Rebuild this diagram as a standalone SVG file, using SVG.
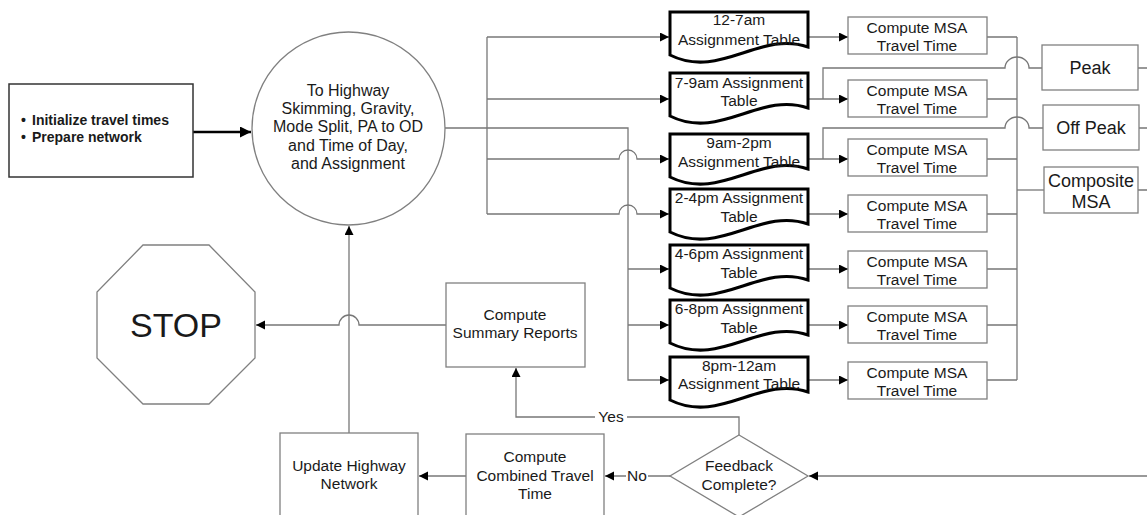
<svg xmlns="http://www.w3.org/2000/svg" xmlns:xlink="http://www.w3.org/1999/xlink" width="1147" height="515" viewBox="0 0 1147 515">
<style>
  text { font-family: "Liberation Sans", Arial, sans-serif; fill: #1a1a1a; text-anchor: middle; }
  .t15 { font-size: 15.5px; }
  .t16 { font-size: 16px; }
  .t18 { font-size: 18px; }
  .box { fill: #fff; stroke: #808080; stroke-width: 1.3; }
  .doc { fill: #fff; stroke: #000; stroke-width: 3; stroke-linejoin: miter; }
  .ln { fill: none; stroke: #777; stroke-width: 1.3; }
  .arr { marker-end: url(#ah); }
  .lbl { fill: #fff; stroke: none; }
</style>
<defs>
  <marker id="ah" markerUnits="userSpaceOnUse" markerWidth="10" markerHeight="10" refX="9" refY="4.5" orient="auto">
    <path d="M0,0 L9,4.5 L0,9 z" fill="#000"/>
  </marker>
  <marker id="ahb" markerUnits="userSpaceOnUse" markerWidth="12" markerHeight="12" refX="11" refY="5.5" orient="auto">
    <path d="M0,0 L11,5.5 L0,11 z" fill="#000"/>
  </marker>
  <path id="docshape" d="M0,0 H138 V35 C90,18 50,68 0,43 Z"/>
</defs>

<g id="connectors">
  <path class="ln" d="M193,132 H251" style="stroke:#000;stroke-width:2.5;marker-end:url(#ahb)"/>
  <path class="ln arr" d="M445,128 H628 V380 H669"/>
  <path class="ln arr" d="M628,269 H669"/>
  <path class="ln arr" d="M628,325 H669"/>
  <path class="ln" d="M487,37 V214"/>
  <path class="ln arr" d="M487,37 H669"/>
  <path class="ln arr" d="M487,99 H669"/>
  <path class="ln arr" d="M487,159 H619 A9,9 0 0 1 637,159 H669"/>
  <path class="ln arr" d="M487,214 H619 A9,9 0 0 1 637,214 H669"/>
  <path class="ln arr" d="M808,37 H848"/>
  <path class="ln arr" d="M808,99 H848"/>
  <path class="ln arr" d="M808,159 H848"/>
  <path class="ln arr" d="M808,214 H848"/>
  <path class="ln arr" d="M808,269 H848"/>
  <path class="ln arr" d="M808,325 H848"/>
  <path class="ln arr" d="M808,380 H848"/>
  <path class="ln" d="M823,99 V68 H1005 A12,11 0 0 1 1029,68 H1043"/>
  <path class="ln" d="M823,159 V128 H1005 A12,11 0 0 1 1029,128 H1043"/>
  <path class="ln" d="M987,37 H1017 M987,99 H1017 M987,159 H1017 M987,214 H1017 M987,269 H1017 M987,325 H1017 M987,380 H1017"/>
  <path class="ln" d="M1017,37 V380"/>
  <path class="ln" d="M1017,190 H1044"/>
  <path class="ln" d="M1138,68 H1147 M1139,128 H1147 M1138,190 H1147"/>
  <path class="ln arr" d="M446,325 H359 A10,10 0 0 0 339,325 H256"/>
  <path class="ln arr" d="M349,433 V226"/>
  <path class="ln arr" d="M739,435 V417 H516 V368"/>
  <path class="ln arr" d="M670,476 H605"/>
  <path class="ln arr" d="M466,476 H419"/>
  <path class="ln arr" d="M1147,476 H809"/>
  <rect class="lbl" x="595" y="408" width="32" height="18"/>
  <text class="t15" x="611" y="422">Yes</text>
  <rect class="lbl" x="626" y="467" width="22" height="18"/>
  <text class="t15" x="637" y="481">No</text>
</g>

<g id="init">
  <rect x="9" y="84" width="184" height="93" fill="#fff" stroke="#333" stroke-width="1.5"/>
  <text x="21" y="125" style="font-size:14px;font-weight:bold;text-anchor:start">•</text>
  <text x="32" y="125" style="font-size:14px;font-weight:bold;text-anchor:start">Initialize travel times</text>
  <text x="21" y="142" style="font-size:14px;font-weight:bold;text-anchor:start">•</text>
  <text x="32" y="142" style="font-size:14px;font-weight:bold;text-anchor:start">Prepare network</text>
</g>

<g id="model">
  <circle cx="348.5" cy="128.5" r="96.5" class="box"/>
  <text class="t16" x="348" y="96">To Highway</text>
  <text class="t16" x="348" y="114">Skimming, Gravity,</text>
  <text class="t16" x="348" y="132">Mode Split, PA to OD</text>
  <text class="t16" x="348" y="151">and Time of Day,</text>
  <text class="t16" x="348" y="169">and Assignment</text>
</g>

<g id="doc1"><use href="#docshape" class="doc" transform="translate(670,12)"/><text class="t15" x="739" y="25">12-7am</text><text class="t15" x="739" y="45">Assignment Table</text></g>
<g id="doc2"><use href="#docshape" class="doc" transform="translate(670,73)"/><text class="t15" x="739" y="88">7-9am Assignment</text><text class="t15" x="739" y="106">Table</text></g>
<g id="doc3"><use href="#docshape" class="doc" transform="translate(670,134)"/><text class="t15" x="739" y="148">9am-2pm</text><text class="t15" x="739" y="167">Assignment Table</text></g>
<g id="doc4"><use href="#docshape" class="doc" transform="translate(670,189)"/><text class="t15" x="739" y="203">2-4pm Assignment</text><text class="t15" x="739" y="222">Table</text></g>
<g id="doc5"><use href="#docshape" class="doc" transform="translate(670,245)"/><text class="t15" x="739" y="259">4-6pm Assignment</text><text class="t15" x="739" y="278">Table</text></g>
<g id="doc6"><use href="#docshape" class="doc" transform="translate(670,300)"/><text class="t15" x="739" y="314">6-8pm Assignment</text><text class="t15" x="739" y="333">Table</text></g>
<g id="doc7"><use href="#docshape" class="doc" transform="translate(670,357)"/><text class="t15" x="739" y="371">8pm-12am</text><text class="t15" x="739" y="389">Assignment Table</text></g>

<g id="msa1"><rect class="box" x="848" y="17" width="139" height="37"/><text class="t15" x="917" y="33">Compute MSA</text><text class="t15" x="917" y="51">Travel Time</text></g>
<g id="msa2"><rect class="box" x="848" y="80" width="139" height="37"/><text class="t15" x="917" y="96">Compute MSA</text><text class="t15" x="917" y="114">Travel Time</text></g>
<g id="msa3"><rect class="box" x="848" y="139" width="139" height="37"/><text class="t15" x="917" y="155">Compute MSA</text><text class="t15" x="917" y="173">Travel Time</text></g>
<g id="msa4"><rect class="box" x="848" y="195" width="139" height="37"/><text class="t15" x="917" y="211">Compute MSA</text><text class="t15" x="917" y="229">Travel Time</text></g>
<g id="msa5"><rect class="box" x="848" y="251" width="139" height="37"/><text class="t15" x="917" y="267">Compute MSA</text><text class="t15" x="917" y="285">Travel Time</text></g>
<g id="msa6"><rect class="box" x="848" y="306" width="139" height="37"/><text class="t15" x="917" y="322">Compute MSA</text><text class="t15" x="917" y="340">Travel Time</text></g>
<g id="msa7"><rect class="box" x="848" y="362" width="139" height="37"/><text class="t15" x="917" y="378">Compute MSA</text><text class="t15" x="917" y="396">Travel Time</text></g>

<g id="peak"><rect class="box" x="1042" y="45" width="96" height="45"/><text class="t18" x="1090" y="74">Peak</text></g>
<g id="offpeak"><rect class="box" x="1043" y="105" width="96" height="45"/><text class="t18" x="1091" y="134">Off Peak</text></g>
<g id="composite"><rect class="box" x="1044" y="167" width="94" height="46"/><text class="t18" x="1091" y="187">Composite</text><text class="t18" x="1091" y="208">MSA</text></g>

<g id="stop">
  <polygon class="box" points="143,245 209,245 255,292 255,358 209,404 143,404 97,358 97,292"/>
  <text x="176" y="337" style="font-size:34px">STOP</text>
</g>

<g id="summary"><rect class="box" x="446" y="283" width="139" height="84"/><text class="t15" x="515" y="320">Compute</text><text class="t15" x="515" y="338">Summary Reports</text></g>

<g id="update"><rect class="box" x="280" y="433" width="138" height="90"/><text class="t15" x="349" y="471">Update Highway</text><text class="t15" x="349" y="489">Network</text></g>

<g id="combined"><rect class="box" x="466" y="434" width="138" height="90"/><text class="t15" x="535" y="462">Compute</text><text class="t15" x="535" y="481">Combined Travel</text><text class="t15" x="535" y="499">Time</text></g>

<g id="feedback">
  <polygon class="box" points="739,435 808,476 739,517 670,476"/>
  <text class="t15" x="739" y="471">Feedback</text>
  <text class="t15" x="739" y="490">Complete?</text>
</g>
</svg>
